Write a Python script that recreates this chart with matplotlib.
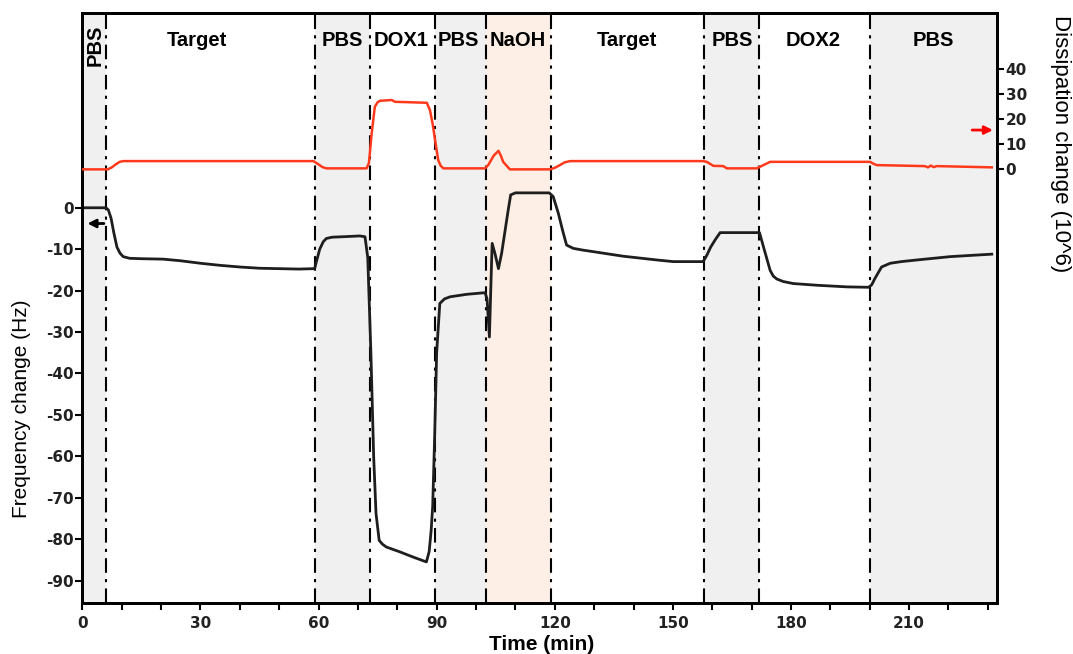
import numpy as np
import matplotlib
matplotlib.use('Agg')
import matplotlib.pyplot as plt
import matplotlib.transforms as mtransforms

plt.rcParams['axes.unicode_minus'] = False

# frequency change (Hz)
freq_t = [0, 6.0, 6.6, 7.3, 8.0, 8.8, 9.6, 10.4, 12, 15, 20.5, 25, 30, 35, 40, 45, 50, 55,
          59.0, 59.6, 60.3, 61.2, 62.0, 63.5, 66, 70.5, 71.8, 72.5, 73.3, 74.0, 74.6, 75.4,
          76.2, 77.2, 80.7, 84.2, 86.8, 87.4, 88.1, 88.6, 89.0, 89.5, 90.0, 90.8, 92, 93.4,
          97.6, 102.3, 102.8, 103.4, 103.8, 104.1, 104.8, 105.7, 106.5, 107.4, 108.1, 108.8,
          110, 118.6, 119.6, 120.9, 122, 123, 124.7, 127, 129.8, 137.4, 145.9, 150.1, 157.7,
          158.6, 159.6, 160.7, 162, 172, 173, 174.7, 175.5, 176.4, 178, 180.6, 186.5, 194.2,
          199.7, 200.5, 201.3, 203, 205.2, 208, 212, 220.4, 231]
freq = [0, 0, -0.5, -2.5, -6, -9.5, -11, -11.8, -12.2, -12.3, -12.4, -12.8, -13.4, -13.9,
        -14.3, -14.6, -14.7, -14.8, -14.7, -12.5, -10, -8.2, -7.4, -7.1, -7.0, -6.8, -7.0,
        -12, -35, -60, -73.8, -80.3, -81.2, -81.9, -83.1, -84.4, -85.3, -85.5, -83, -78,
        -72, -55, -35, -23.1, -22, -21.5, -20.9, -20.5, -22, -31.2, -18, -8.6, -11, -14.7,
        -11, -5.4, -1, 3.1, 3.6, 3.6, 2.7, -1.3, -5.5, -9.0, -9.8, -10.2, -10.6, -11.7,
        -12.6, -13.0, -13.0, -11.5, -9.5, -7.8, -6.0, -6.0, -9.4, -15.1, -16.5, -17.2,
        -17.8, -18.3, -18.7, -19.1, -19.2, -18.6, -17.1, -14.3, -13.4, -13.0, -12.6,
        -11.8, -11.2]

# dissipation change (10^6), red trace
diss_t = [0, 6.5, 7.5, 8.5, 9.5, 10.4, 30, 58.7, 59.8, 61, 62, 72.2, 72.8, 73.5, 74.3, 75.0,
          75.6, 78.6, 79.4, 87.5, 88.3, 89.0, 89.6, 90.4, 91.0, 91.7, 102.3, 103.1, 104.5,
          105.7, 106.3, 106.9, 108.6, 118.8, 120.0, 121.3, 122.5, 123.9, 157.7, 158.6,
          160.3, 162.8, 163.7, 171.3, 173, 174.7, 200.1, 201.0, 201.8, 214, 214.8, 215.5,
          216.3, 217, 231]
diss = [0, 0, 0.8, 2.0, 3.0, 3.3, 3.3, 3.3, 2.2, 0.9, 0.4, 0.4, 2.5, 14.4, 25, 26.8, 27.4,
        27.7, 27.0, 26.6, 23.7, 18, 11.7, 3.7, 1.5, 0.4, 0.4, 1.7, 5.5, 7.4, 5.5, 3.0, 0.0,
        0.0, 0.6, 1.7, 2.8, 3.3, 3.3, 3.0, 1.4, 1.3, 0.4, 0.4, 1.7, 3.0, 3.0, 2.2, 1.7, 1.3,
        0.8, 1.5, 0.9, 1.3, 0.8]

# injection steps
step_edges = [0, 6, 59, 73, 89.5, 102.5, 119, 158, 172, 200, 232.4]
step_names = ['PBS', 'Target', 'PBS', 'DOX1', 'PBS', 'NaOH', 'Target', 'PBS', 'DOX2', 'PBS']
label_x = [3.2, 29.1, 66, 80.9, 95.4, 110.7, 138.4, 165, 185.6, 216.1]

shade = {'PBS': '#f0f0f0', 'NaOH': '#fdefe6'}

fig = plt.figure(figsize=(10.73, 6.54), dpi=100)
ax = fig.add_axes([82.3 / 1073, 1 - 603.3 / 654, (997.3 - 82.3) / 1073, (603.3 - 12.7) / 654])
ax2 = ax.twinx()

for i, name in enumerate(step_names):
    if name in shade:
        ax.axvspan(step_edges[i], step_edges[i + 1], color=shade[name], lw=0, zorder=0)
for x in step_edges[1:-1]:
    ax.axvline(x, color='black', lw=1.5, ls=(0, (7, 3, 1.5, 3)), zorder=1)

ax.plot(freq_t, freq, color='#1e1e1e', lw=2.0, zorder=3)
ax2.plot(diss_t, diss, color='#ff3a1c', lw=1.8, zorder=3)

ax.set_xlim(0, 232.4)
ax.set_ylim(-95.5, 47.1)
ax2.set_ylim(-173.4, 62.6)

ax.set_xticks(np.arange(0, 231, 30))
ax.set_xticks(np.arange(0, 231, 10), minor=True)
ax.set_yticks(np.arange(-90, 1, 10))
ax2.set_yticks(np.arange(0, 41, 10))

tick_font = dict(family='DejaVu Sans', weight='bold', size=11)
for a in (ax, ax2):
    a.tick_params(which='both', direction='out', length=5, width=1.5, color='black',
                  labelcolor='#222222', pad=1)
    for lab in a.get_xticklabels() + a.get_yticklabels():
        lab.set_fontproperties(tick_font)
    for sp in a.spines.values():
        sp.set_linewidth(2.0)
ax.tick_params(axis='x', pad=4)

# step names along the top
trans = mtransforms.blended_transform_factory(ax.transData, ax.transAxes)
for name, x in zip(step_names, label_x):
    rot = 90 if x < 6 else 0
    ax.text(x, 0.9537 if rot == 0 else 0.945, name, transform=trans, ha='center', va='center',
            rotation=rot, family='Liberation Sans', weight='bold', fontsize=14.5, zorder=4)

# axis arrows
ax.annotate('', xy=(0.6, -3.8), xytext=(6.2, -3.8),
            arrowprops=dict(arrowstyle='-|>', color='black', lw=2, mutation_scale=12))
ax2.annotate('', xy=(232.0, 15.7), xytext=(225.3, 15.7),
             arrowprops=dict(arrowstyle='-|>', color='red', lw=2, mutation_scale=12))

fig.text(22 / 1073, 1 - 409 / 654, 'Frequency change (Hz)', rotation=90, ha='center',
         va='center', family='Liberation Sans', fontsize=15)
fig.text(542 / 1073, 1 - 645 / 654, 'Time (min)', ha='center', va='center',
         family='Liberation Sans', weight='bold', fontsize=15)
fig.text(1060 / 1073, 1 - 144 / 654, 'Dissipation change (10^6)', rotation=270, ha='center',
         va='center', family='Liberation Sans', fontsize=16)

fig.savefig('out.png', dpi=100)
